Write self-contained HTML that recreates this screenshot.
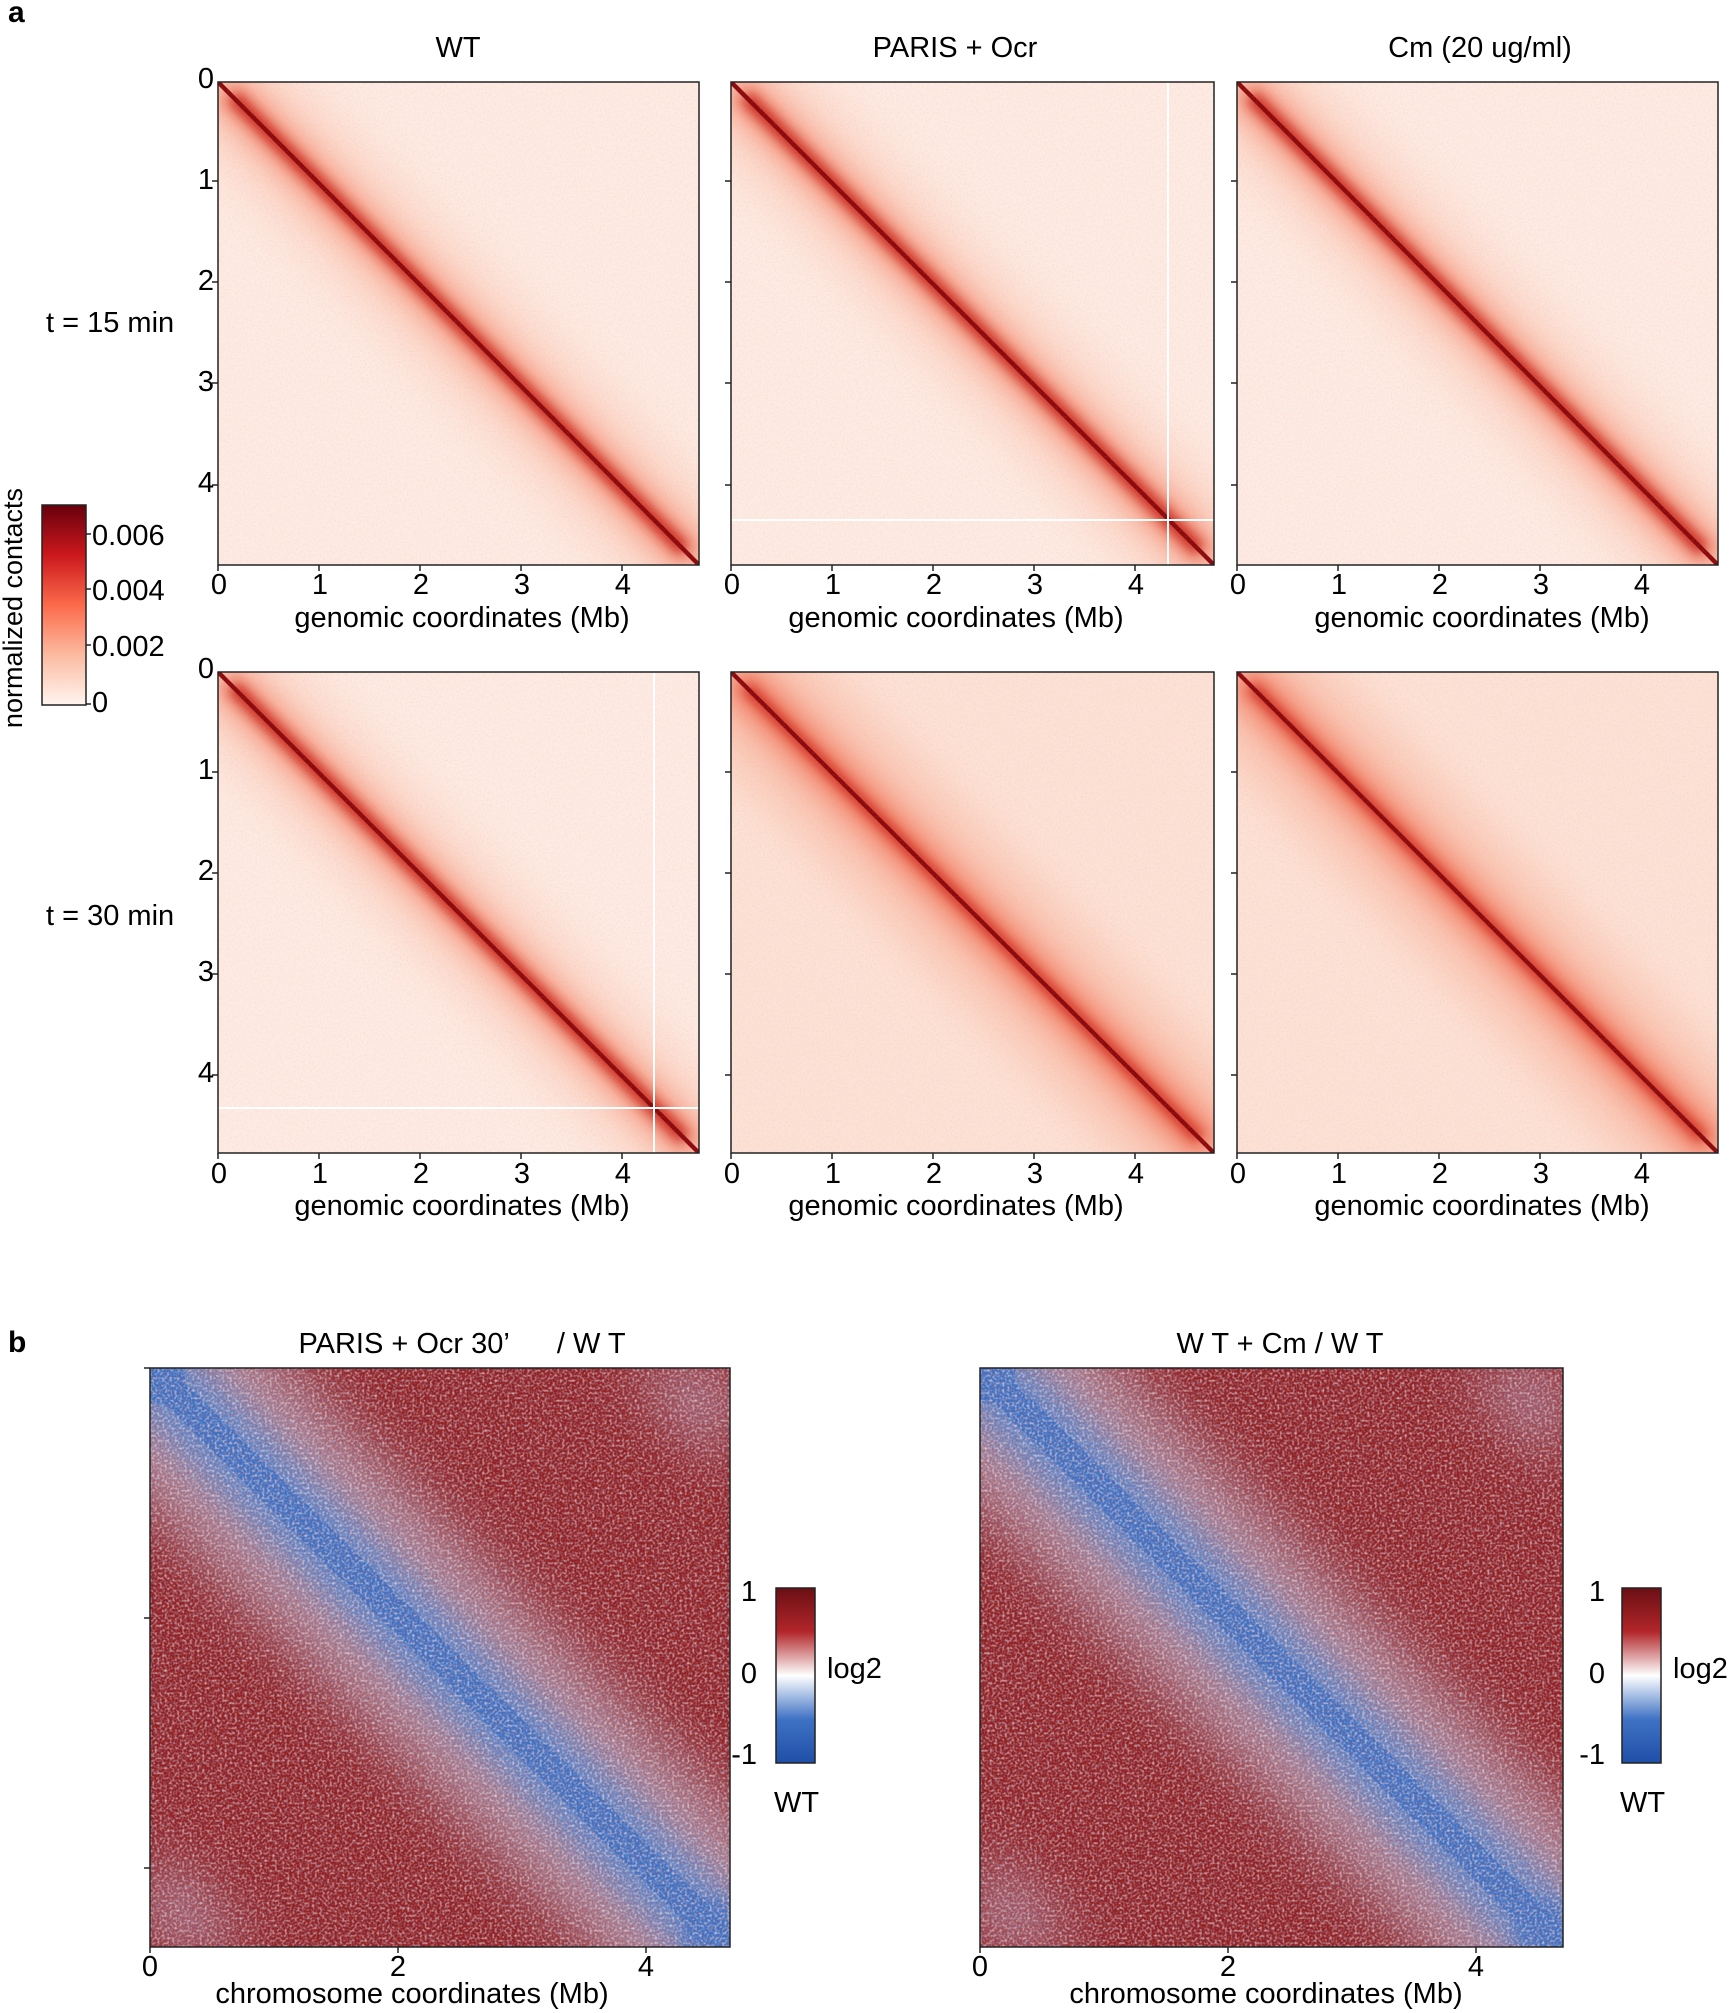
<!DOCTYPE html>
<html><head><meta charset="utf-8"><style>
html,body{margin:0;padding:0;background:#fff;}
svg{display:block;font-family:"Liberation Sans",Arial,sans-serif;}
</style></head><body>
<svg width="1729" height="2013" viewBox="0 0 1729 2013" xmlns="http://www.w3.org/2000/svg">
<defs>
<filter id="b4" x="-50%" y="-50%" width="200%" height="200%"><feGaussianBlur stdDeviation="3"/></filter>
<filter id="b15" x="-50%" y="-50%" width="200%" height="200%"><feGaussianBlur stdDeviation="1.2"/></filter>
<filter id="b6" x="-50%" y="-50%" width="200%" height="200%"><feGaussianBlur stdDeviation="5"/></filter>
<filter id="noiseR" x="0" y="0" width="100%" height="100%">
 <feTurbulence type="fractalNoise" baseFrequency="0.55" numOctaves="1" seed="3"/>
 <feColorMatrix type="matrix" values="0 0 0 0 0.85  0 0 0 0 0.3  0 0 0 0 0.25  0 0 0 1.2 -0.55"/>
</filter>
<filter id="noiseW" x="0" y="0" width="100%" height="100%">
 <feTurbulence type="fractalNoise" baseFrequency="0.4" numOctaves="1" seed="7"/>
 <feColorMatrix type="matrix" values="0 0 0 0 1  0 0 0 0 0.9  0 0 0 0 0.9  0 0 0 2.4 -1.1"/>
</filter>
<filter id="noiseB" x="0" y="0" width="100%" height="100%">
 <feTurbulence type="fractalNoise" baseFrequency="0.45" numOctaves="1" seed="11"/>
 <feColorMatrix type="matrix" values="0 0 0 0 0.3  0 0 0 0 0.45  0 0 0 0 0.8  0 0 0 2.2 -1.05"/>
</filter>
<filter id="noiseD" x="0" y="0" width="100%" height="100%">
 <feTurbulence type="fractalNoise" baseFrequency="0.5" numOctaves="1" seed="19"/>
 <feColorMatrix type="matrix" values="0 0 0 0 0.45  0 0 0 0 0.05  0 0 0 0 0.05  0 0 0 2.2 -1.0"/>
</filter>
<linearGradient id="cbR" x1="0" y1="1" x2="0" y2="0">
 <stop offset="0" stop-color="#fff5f0"/><stop offset="0.25" stop-color="#fcbba1"/>
 <stop offset="0.5" stop-color="#fb6a4a"/><stop offset="0.75" stop-color="#cb181d"/><stop offset="1" stop-color="#67000d"/>
</linearGradient>
<linearGradient id="cbB" x1="0" y1="1" x2="0" y2="0">
 <stop offset="0" stop-color="#1f4fa8"/><stop offset="0.25" stop-color="#3f72c4"/>
 <stop offset="0.5" stop-color="#ffffff"/><stop offset="0.75" stop-color="#b2262a"/><stop offset="1" stop-color="#6a0f14"/>
</linearGradient>
<g id="hic">
 <rect x="0" y="0" width="100" height="100" fill="#fdebe3"/>
 <line x1="0" y1="0" x2="100" y2="100" stroke="#f9b9a3" stroke-width="22" filter="url(#b6)" opacity="0.5"/>
 <line x1="0" y1="0" x2="100" y2="100" stroke="#f07a5e" stroke-width="7" filter="url(#b4)" opacity="0.8"/>
 <line x1="3" y1="3" x2="97" y2="97" stroke="#c9281c" stroke-width="3" filter="url(#b15)"/>
 <line x1="0" y1="0" x2="100" y2="100" stroke="#8a0a0e" stroke-width="0.9"/>
</g>
<g id="hicStrong">
 <rect x="0" y="0" width="100" height="100" fill="#fce2d6"/>
 <line x1="0" y1="0" x2="100" y2="100" stroke="#f7a98f" stroke-width="26" filter="url(#b6)" opacity="0.55"/>
 <line x1="0" y1="0" x2="100" y2="100" stroke="#ee6b50" stroke-width="8" filter="url(#b4)" opacity="0.8"/>
 <line x1="3" y1="3" x2="97" y2="97" stroke="#cf2a1c" stroke-width="2.5" filter="url(#b15)"/>
 <line x1="0" y1="0" x2="100" y2="100" stroke="#8a0a0e" stroke-width="0.9"/>
</g>
<g id="ratio">
 <rect x="0" y="0" width="100" height="100" fill="#8f1f22"/>
 <line x1="0" y1="0" x2="100" y2="100" stroke="#b7a8c0" stroke-width="34" filter="url(#b6)" opacity="0.75"/>
 <line x1="0" y1="0" x2="100" y2="100" stroke="#5a86cc" stroke-width="13" filter="url(#b4)"/>
 <line x1="0" y1="0" x2="100" y2="100" stroke="#3f73c6" stroke-width="5"/>
 <polygon points="0,100 0,82 18,100" fill="#b9a9c4" opacity="0.7" filter="url(#b6)"/>
 <polygon points="100,0 82,0 100,18" fill="#b9a9c4" opacity="0.7" filter="url(#b6)"/>
 <rect x="0" y="0" width="6" height="6" fill="#3f73c6"/>
 <rect x="92" y="92" width="8" height="8" fill="#3f73c6" filter="url(#b15)"/>
</g>
</defs>

<text x="8" y="22" font-size="30" font-weight="bold">a</text>
<text x="8" y="1352" font-size="30" font-weight="bold">b</text>

<g font-size="29" text-anchor="middle">
<text x="458" y="57">WT</text>
<text x="955" y="57">PARIS + Ocr</text>
<text x="1480" y="57">Cm (20 ug/ml)</text>
</g>
<text x="46" y="332" font-size="29">t = 15 min</text>
<text x="46" y="925" font-size="29">t = 30 min</text>

<svg x="218" y="82" width="481" height="483" viewBox="0 0 100 100" preserveAspectRatio="none"><use href="#hic"/></svg>
<svg x="731" y="82" width="483" height="483" viewBox="0 0 100 100" preserveAspectRatio="none"><use href="#hic"/></svg>
<svg x="1237" y="82" width="481" height="483" viewBox="0 0 100 100" preserveAspectRatio="none"><use href="#hic"/></svg>
<svg x="218" y="672" width="481" height="481" viewBox="0 0 100 100" preserveAspectRatio="none"><use href="#hic"/></svg>
<svg x="731" y="672" width="483" height="481" viewBox="0 0 100 100" preserveAspectRatio="none"><use href="#hicStrong"/></svg>
<svg x="1237" y="672" width="481" height="481" viewBox="0 0 100 100" preserveAspectRatio="none"><use href="#hicStrong"/></svg>
<g opacity="0.3">
<rect x="218" y="82" width="481" height="483" filter="url(#noiseR)"/>
<rect x="731" y="82" width="483" height="483" filter="url(#noiseR)"/>
<rect x="1237" y="82" width="481" height="483" filter="url(#noiseR)"/>
<rect x="218" y="672" width="481" height="481" filter="url(#noiseR)"/>
<rect x="731" y="672" width="483" height="481" filter="url(#noiseR)"/>
<rect x="1237" y="672" width="481" height="481" filter="url(#noiseR)"/>
</g>
<g stroke="#fff" stroke-width="2">
<line x1="1168" y1="82" x2="1168" y2="565"/><line x1="731" y1="520" x2="1214" y2="520"/>
<line x1="654" y1="672" x2="654" y2="1153"/><line x1="218" y1="1108" x2="699" y2="1108"/>
</g>
<g fill="none" stroke="#222" stroke-width="1.5">
<rect x="218" y="82" width="481" height="483"/><rect x="731" y="82" width="483" height="483"/><rect x="1237" y="82" width="481" height="483"/>
<rect x="218" y="672" width="481" height="481"/><rect x="731" y="672" width="483" height="481"/><rect x="1237" y="672" width="481" height="481"/>
</g>

<g font-size="29">
<g text-anchor="end">
<text x="214" y="88">0</text><text x="214" y="189">1</text><text x="214" y="290">2</text><text x="214" y="391">3</text><text x="214" y="492">4</text>
<text x="214" y="678">0</text><text x="214" y="779">1</text><text x="214" y="880">2</text><text x="214" y="981">3</text><text x="214" y="1082">4</text>
</g>
<g text-anchor="middle">
<text x="219" y="594">0</text><text x="320" y="594">1</text><text x="421" y="594">2</text><text x="522" y="594">3</text><text x="623" y="594">4</text>
<text x="732" y="594">0</text><text x="833" y="594">1</text><text x="934" y="594">2</text><text x="1035" y="594">3</text><text x="1136" y="594">4</text>
<text x="1238" y="594">0</text><text x="1339" y="594">1</text><text x="1440" y="594">2</text><text x="1541" y="594">3</text><text x="1642" y="594">4</text>
<text x="219" y="1183">0</text><text x="320" y="1183">1</text><text x="421" y="1183">2</text><text x="522" y="1183">3</text><text x="623" y="1183">4</text>
<text x="732" y="1183">0</text><text x="833" y="1183">1</text><text x="934" y="1183">2</text><text x="1035" y="1183">3</text><text x="1136" y="1183">4</text>
<text x="1238" y="1183">0</text><text x="1339" y="1183">1</text><text x="1440" y="1183">2</text><text x="1541" y="1183">3</text><text x="1642" y="1183">4</text>
<text x="462" y="627">genomic coordinates (Mb)</text><text x="956" y="627">genomic coordinates (Mb)</text><text x="1482" y="627">genomic coordinates (Mb)</text>
<text x="462" y="1215">genomic coordinates (Mb)</text><text x="956" y="1215">genomic coordinates (Mb)</text><text x="1482" y="1215">genomic coordinates (Mb)</text>
</g>
</g>
<g stroke="#222" stroke-width="1.5">
<path d="M212 181h6M212 282h6M212 383h6M212 485h6M725 181h6M725 282h6M725 383h6M725 485h6M1231 181h6M1231 282h6M1231 383h6M1231 485h6"/>
<path d="M212 772h6M212 873h6M212 974h6M212 1075h6M725 772h6M725 873h6M725 974h6M725 1075h6M1231 772h6M1231 873h6M1231 974h6M1231 1075h6"/>
<path d="M218 565v6M319 565v6M420 565v6M521 565v6M622 565v6M731 565v6M832 565v6M933 565v6M1034 565v6M1135 565v6M1237 565v6M1338 565v6M1439 565v6M1540 565v6M1641 565v6"/>
<path d="M218 1153v6M319 1153v6M420 1153v6M521 1153v6M622 1153v6M731 1153v6M832 1153v6M933 1153v6M1034 1153v6M1135 1153v6M1237 1153v6M1338 1153v6M1439 1153v6M1540 1153v6M1641 1153v6"/>
</g>

<rect x="42" y="505" width="44" height="200" fill="url(#cbR)" stroke="#222" stroke-width="1.5"/>
<g stroke="#222" stroke-width="1.5"><path d="M86 534h5M86 589h5M86 645h5M86 704h5"/></g>
<g font-size="29">
<text x="92" y="545">0.006</text><text x="92" y="600">0.004</text><text x="92" y="656">0.002</text><text x="92" y="712">0</text>
</g>
<text transform="translate(22,608) rotate(-90)" font-size="27" text-anchor="middle">normalized contacts</text>

<g font-size="29" text-anchor="middle">
<text x="462" y="1353">PARIS + Ocr 30’ <tspan dx="40">/ W T</tspan></text>
<text x="1280" y="1353">W T + Cm / W T</text>
</g>
<svg x="150" y="1368" width="580" height="579" viewBox="0 0 100 100" preserveAspectRatio="none"><use href="#ratio"/></svg>
<svg x="980" y="1368" width="583" height="579" viewBox="0 0 100 100" preserveAspectRatio="none"><use href="#ratio"/></svg>
<g opacity="0.8">
<rect x="150" y="1368" width="580" height="579" filter="url(#noiseW)"/>
<rect x="980" y="1368" width="583" height="579" filter="url(#noiseW)"/>
</g>
<g opacity="0.6">
<rect x="150" y="1368" width="580" height="579" filter="url(#noiseB)"/>
<rect x="980" y="1368" width="583" height="579" filter="url(#noiseB)"/>
</g>
<g opacity="0.5">
<rect x="150" y="1368" width="580" height="579" filter="url(#noiseD)"/>
<rect x="980" y="1368" width="583" height="579" filter="url(#noiseD)"/>
</g>
<g fill="none" stroke="#222" stroke-width="1.5">
<rect x="150" y="1368" width="580" height="579"/><rect x="980" y="1368" width="583" height="579"/>
<path d="M144 1368h6M144 1618h6M144 1868h6M150 1947v6M398 1947v6M646 1947v6M980 1947v6M1228 1947v6M1476 1947v6"/>
</g>
<g font-size="29" text-anchor="middle">
<text x="150" y="1976">0</text><text x="398" y="1976">2</text><text x="646" y="1976">4</text>
<text x="980" y="1976">0</text><text x="1228" y="1976">2</text><text x="1476" y="1976">4</text>
<text x="412" y="2003">chromosome coordinates (Mb)</text>
<text x="1266" y="2003">chromosome coordinates (Mb)</text>
</g>
<rect x="776" y="1588" width="39" height="175" fill="url(#cbB)" stroke="#222" stroke-width="1.5"/>
<rect x="1622" y="1588" width="39" height="175" fill="url(#cbB)" stroke="#222" stroke-width="1.5"/>
<g font-size="29">
<text x="757" y="1601" text-anchor="end">1</text><text x="757" y="1683" text-anchor="end">0</text><text x="757" y="1764" text-anchor="end">-1</text>
<text x="827" y="1678">log2</text><text x="774" y="1812">WT</text>
<text x="1605" y="1601" text-anchor="end">1</text><text x="1605" y="1683" text-anchor="end">0</text><text x="1605" y="1764" text-anchor="end">-1</text>
<text x="1673" y="1678">log2</text><text x="1620" y="1812">WT</text>
</g>
</svg>
</body></html>
